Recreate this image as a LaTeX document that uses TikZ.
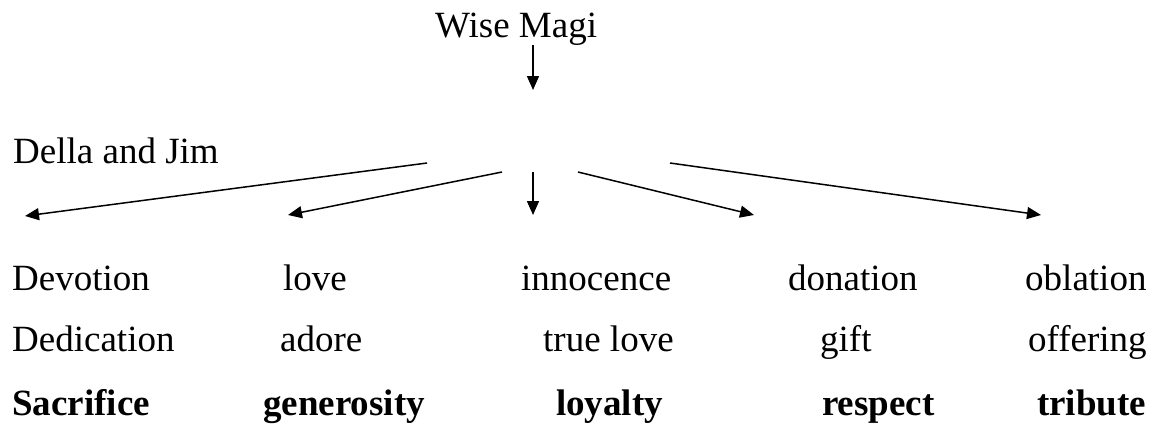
\documentclass[tikz,border=0pt]{standalone}
\usepackage{fontspec}
\setmainfont{Liberation Serif}
\usetikzlibrary{arrows.meta}
\tikzset{
  lbl/.style={anchor=base west, inner sep=0pt, font=\fontsize{37}{40}\selectfont},
  blbl/.style={lbl, font=\fontsize{37}{40}\selectfont\bfseries},
  arr/.style={line width=1.5pt, -{Triangle[length=14pt,width=12pt]}}
}
\begin{document}
\begin{tikzpicture}[x=1pt,y=-1pt]
\useasboundingbox (0,0) rectangle (1153,424);
\node[lbl] (wise) at (435,37) {Wise Magi};
\node[lbl] (della) at (13,163) {Della and Jim};
% row 1
\node[lbl] (devotion) at (12,290) {Devotion};
\node[lbl] (love) at (283,290) {love};
\node[lbl] (innocence) at (521,290) {innocence};
\node[lbl] (donation) at (788,290) {donation};
\node[lbl] (oblation) at (1025,290) {oblation};
% row 2
\node[lbl] (dedication) at (12,351) {Dedication};
\node[lbl] (adore) at (280,351) {adore};
\node[lbl] (truelove) at (543,351) {true love};
\node[lbl] (gift) at (820,351) {gift};
\node[lbl] (offering) at (1028,351) {offering};
% row 3
\node[blbl] (sacrifice) at (12,415) {Sacrifice};
\node[blbl] (generosity) at (263,415) {generosity};
\node[blbl] (loyalty) at (556,415) {loyalty};
\node[blbl] (respect) at (822,415) {respect};
\node[blbl] (tribute) at (1037,415) {tribute};
% connector ends
\coordinate (w0) at (533,45);
\coordinate (w1) at (533,90);
\coordinate (a0) at (427,163);
\coordinate (a1) at (25,216);
\coordinate (b0) at (502,172);
\coordinate (b1) at (288,215);
\coordinate (c0) at (533,172);
\coordinate (c1) at (533,215);
\coordinate (d0) at (578,172);
\coordinate (d1) at (754,215);
\coordinate (e0) at (670,163);
\coordinate (e1) at (1041,215);
\draw[arr] (w0) -- (w1);
\draw[arr] (a0) -- (a1);
\draw[arr] (b0) -- (b1);
\draw[arr] (c0) -- (c1);
\draw[arr] (d0) -- (d1);
\draw[arr] (e0) -- (e1);
\end{tikzpicture}
\end{document}
